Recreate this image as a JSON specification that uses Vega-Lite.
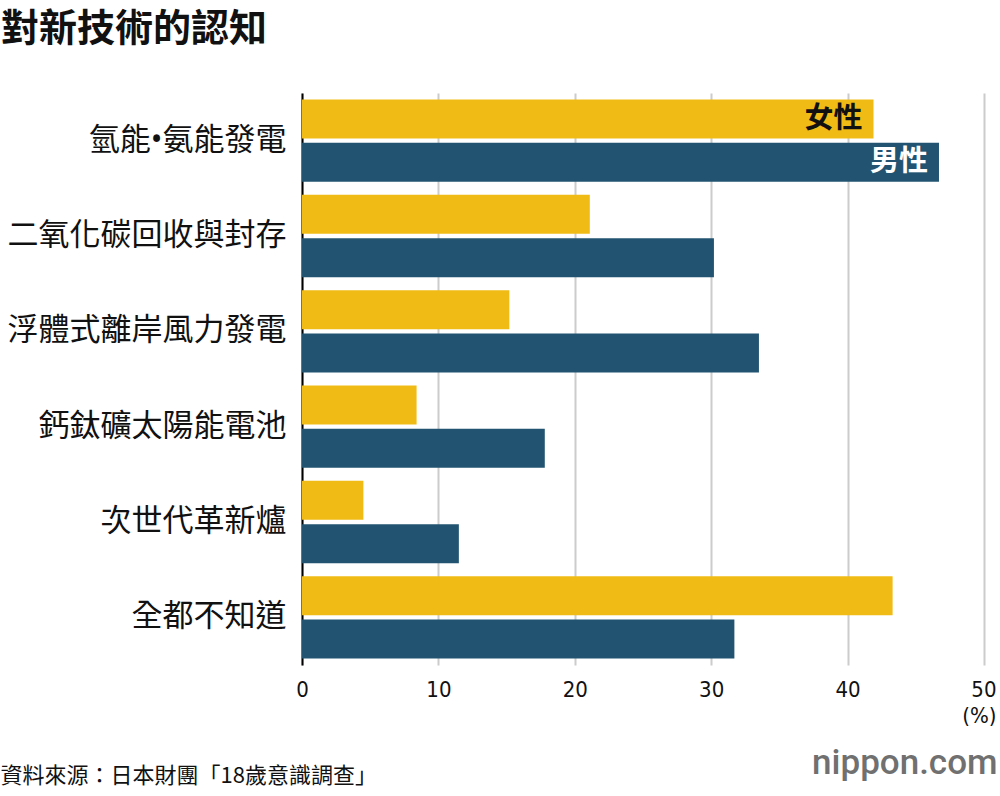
{
  "$schema": "https://vega.github.io/schema/vega-lite/v6.json",
  "width": 682,
  "height": 572,
  "autosize": {"type": "none"},
  "padding": {"left": 302, "top": 93, "right": 16, "bottom": 131},
  "background": "white",
  "title": {
    "text": "對新技術的認知",
    "anchor": "start",
    "frame": "group",
    "dx": -301,
    "offset": 14,
    "baseline": "alphabetic",
    "font": "Noto Sans CJK TC",
    "fontSize": 38,
    "fontWeight": "bold",
    "color": "#111111"
  },
  "data": {
    "values": [
      {"cat": "氫能•氨能發電", "gender": "女性", "value": 41.9},
      {"cat": "氫能•氨能發電", "gender": "男性", "value": 46.7},
      {"cat": "二氧化碳回收與封存", "gender": "女性", "value": 21.1},
      {"cat": "二氧化碳回收與封存", "gender": "男性", "value": 30.2},
      {"cat": "浮體式離岸風力發電", "gender": "女性", "value": 15.2},
      {"cat": "浮體式離岸風力發電", "gender": "男性", "value": 33.5},
      {"cat": "鈣鈦礦太陽能電池", "gender": "女性", "value": 8.4},
      {"cat": "鈣鈦礦太陽能電池", "gender": "男性", "value": 17.8},
      {"cat": "次世代革新爐", "gender": "女性", "value": 4.5},
      {"cat": "次世代革新爐", "gender": "男性", "value": 11.5},
      {"cat": "全都不知道", "gender": "女性", "value": 43.3},
      {"cat": "全都不知道", "gender": "男性", "value": 31.7}
    ]
  },
  "encoding": {
    "y": {
      "field": "cat",
      "type": "nominal",
      "sort": ["氫能•氨能發電", "二氧化碳回收與封存", "浮體式離岸風力發電", "鈣鈦礦太陽能電池", "次世代革新爐", "全都不知道"],
      "scale": {"paddingInner": 0, "paddingOuter": 0},
      "axis": {
        "title": "nippon.com",
        "titleAngle": 0,
        "titleX": 695,
        "titleY": 680,
        "titleAlign": "right",
        "titleBaseline": "alphabetic",
        "titleFont": "Roboto",
        "titleFontSize": 35,
        "titleFontWeight": 500,
        "titleColor": "#707070",
        "domain": true,
        "domainColor": "#000000",
        "domainWidth": 2,
        "ticks": false,
        "grid": false,
        "labelFont": "Noto Sans, Noto Sans CJK TC",
        "labelFontSize": 31,
        "labelColor": "#111111",
        "labelPadding": 16,
        "labelLimit": 400
      }
    },
    "yOffset": {
      "field": "gender",
      "type": "nominal",
      "sort": ["女性", "男性"],
      "scale": {"paddingInner": 0.1, "paddingOuter": 0.15}
    },
    "x": {
      "field": "value",
      "type": "quantitative",
      "scale": {"domain": [0, 50], "nice": false},
      "axis": {
        "values": [0, 10, 20, 30, 40, 50],
        "labelExpr": "datum.value == 50 ? ['50', '(%)'] : datum.label",
        "labelAlign": {"condition": {"test": "datum.value == 50", "value": "right"}, "value": "center"},
        "labelOffset": {"condition": {"test": "datum.value == 50", "value": 12}, "value": 0},
        "labelFont": "DejaVu Sans Condensed, Roboto",
        "labelFontSize": 22,
        "labelColor": "#111111",
        "labelPadding": 14,
        "labelLineHeight": 26,
        "labelFlush": false,
        "labelOverlap": false,
        "domain": false,
        "ticks": false,
        "grid": true,
        "gridColor": "#cccccc",
        "gridWidth": 2,
        "title": "資料來源：日本財團「18歲意識調查」",
        "titleX": -302,
        "titleY": 117,
        "titleAlign": "left",
        "titleBaseline": "alphabetic",
        "titleFont": "Noto Sans CJK TC",
        "titleFontSize": 22,
        "titleFontWeight": "normal",
        "titleColor": "#111111"
      }
    }
  },
  "layer": [
    {
      "mark": {"type": "bar"},
      "encoding": {
        "color": {
          "field": "gender",
          "type": "nominal",
          "scale": {"domain": ["女性", "男性"], "range": ["#F1BB16", "#225472"]},
          "legend": null
        }
      }
    },
    {
      "transform": [{"filter": "datum.cat == '氫能•氨能發電'"}],
      "mark": {
        "type": "text",
        "align": "right",
        "baseline": "middle",
        "dx": -11,
        "font": "Noto Sans CJK TC",
        "fontSize": 29,
        "fontWeight": "bold"
      },
      "encoding": {
        "text": {"field": "gender", "type": "nominal"},
        "color": {
          "condition": {"test": "datum.gender == '女性'", "value": "#111111"},
          "value": "#ffffff"
        }
      }
    }
  ],
  "config": {
    "view": {"stroke": null}
  }
}
